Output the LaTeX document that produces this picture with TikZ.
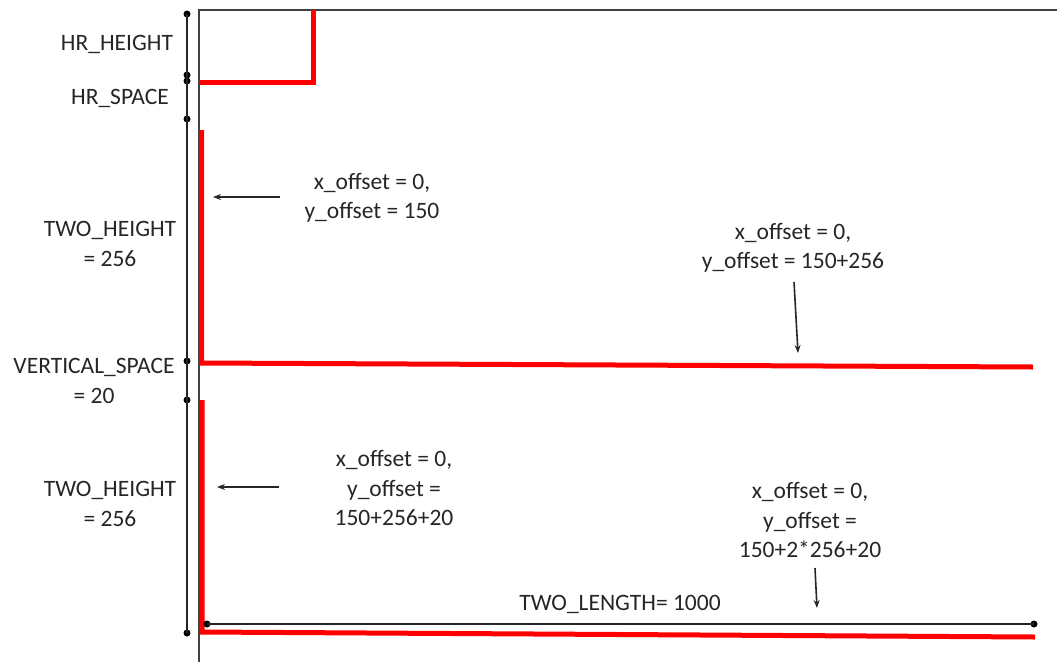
\documentclass[tikz,border=0pt]{standalone}
\usepackage{fontspec}
\setmainfont{Carlito}
\usetikzlibrary{arrows.meta}
\tikzset{
  lbl/.style={align=center, inner sep=0pt, text=black!85, font=\fontsize{23.5}{29.5}\selectfont},
  frame/.style={draw=black!75, line width=1.8pt},
  dim/.style={draw=black!85, line width=1.8pt},
  redl/.style={draw=red, line width=5pt},
  arr/.style={draw=black!85, line width=1.6pt, -{Stealth[length=8pt,width=6pt]}},
  dot/.style={circle, fill=black, inner sep=0pt, minimum size=7pt}
}
\begin{document}
\begin{tikzpicture}[x=1pt,y=-1pt]
\useasboundingbox (0,0) rectangle (1057,662);
% frame
\coordinate (fTL) at (199,10);
\coordinate (fTR) at (1057,10);
\coordinate (fBL) at (199,662);
\draw[frame] (fTR) -- (fTL) -- (fBL);
% red lines
\coordinate (r1a) at (199,82);
\coordinate (r1b) at (313,82);
\coordinate (r1c) at (313,10);
\draw[redl, line join=miter] (r1a) -- (r1b) -- (r1c);
\coordinate (r2a) at (201.5,130);
\coordinate (r2b) at (201.5,363);
\coordinate (r2c) at (1033,367);
\draw[redl] (r2a) -- (r2b) -- (r2c);
\coordinate (r3a) at (202,400);
\coordinate (r3b) at (202,632);
\coordinate (r3c) at (1035,637);
\draw[redl] (r3a) -- (r3b) -- (r3c);
% dimension markers
\node[dot] (d1) at (187,14) {};
\node[dot] (d2) at (187,75) {};
\node[dot] (d3) at (187,81) {};
\node[dot] (d4) at (187,119) {};
\node[dot] (d5) at (187,361) {};
\node[dot] (d6) at (187,400) {};
\node[dot] (d7) at (187,633) {};
\draw[dim] (d1.center) -- (d7.center);
\node[dot] (e1) at (207,624) {};
\node[dot] (e2) at (1034,624) {};
\draw[dim] (e1.center) -- (e2.center);
% labels
\node[lbl] (hrh) at (117,44) {HR\_HEIGHT};
\node[lbl] (hrs) at (120,98) {HR\_SPACE};
\node[lbl] (th1) at (110,244) {TWO\_HEIGHT\\= 256};
\node[lbl] (vs) at (94,381) {VERTICAL\_SPACE\\= 20};
\node[lbl] (th2) at (110,504) {TWO\_HEIGHT\\= 256};
\node[lbl] (t1) at (372,198) {x\_offset = 0,\\y\_offset = 150};
\node[lbl] (t2) at (793,248) {x\_offset = 0,\\y\_offset = 150+256};
\node[lbl] (t3) at (394,488) {x\_offset = 0,\\y\_offset =\\150+256+20};
\node[lbl] (t4) at (810,520) {x\_offset = 0,\\y\_offset =\\150+2*256+20};
\node[lbl] (tl) at (620,604) {TWO\_LENGTH= 1000};
% arrows
\coordinate (a1s) at (280,197);
\coordinate (a1e) at (213,197);
\draw[arr] (a1s) -- (a1e);
\coordinate (a2s) at (279,487);
\coordinate (a2e) at (217,487);
\draw[arr] (a2s) -- (a2e);
\coordinate (a3s) at (794,282);
\coordinate (a3e) at (798,353);
\draw[arr] (a3s) -- (a3e);
\coordinate (a4s) at (815,568);
\coordinate (a4e) at (817,608);
\draw[arr] (a4s) -- (a4e);
\end{tikzpicture}
\end{document}
